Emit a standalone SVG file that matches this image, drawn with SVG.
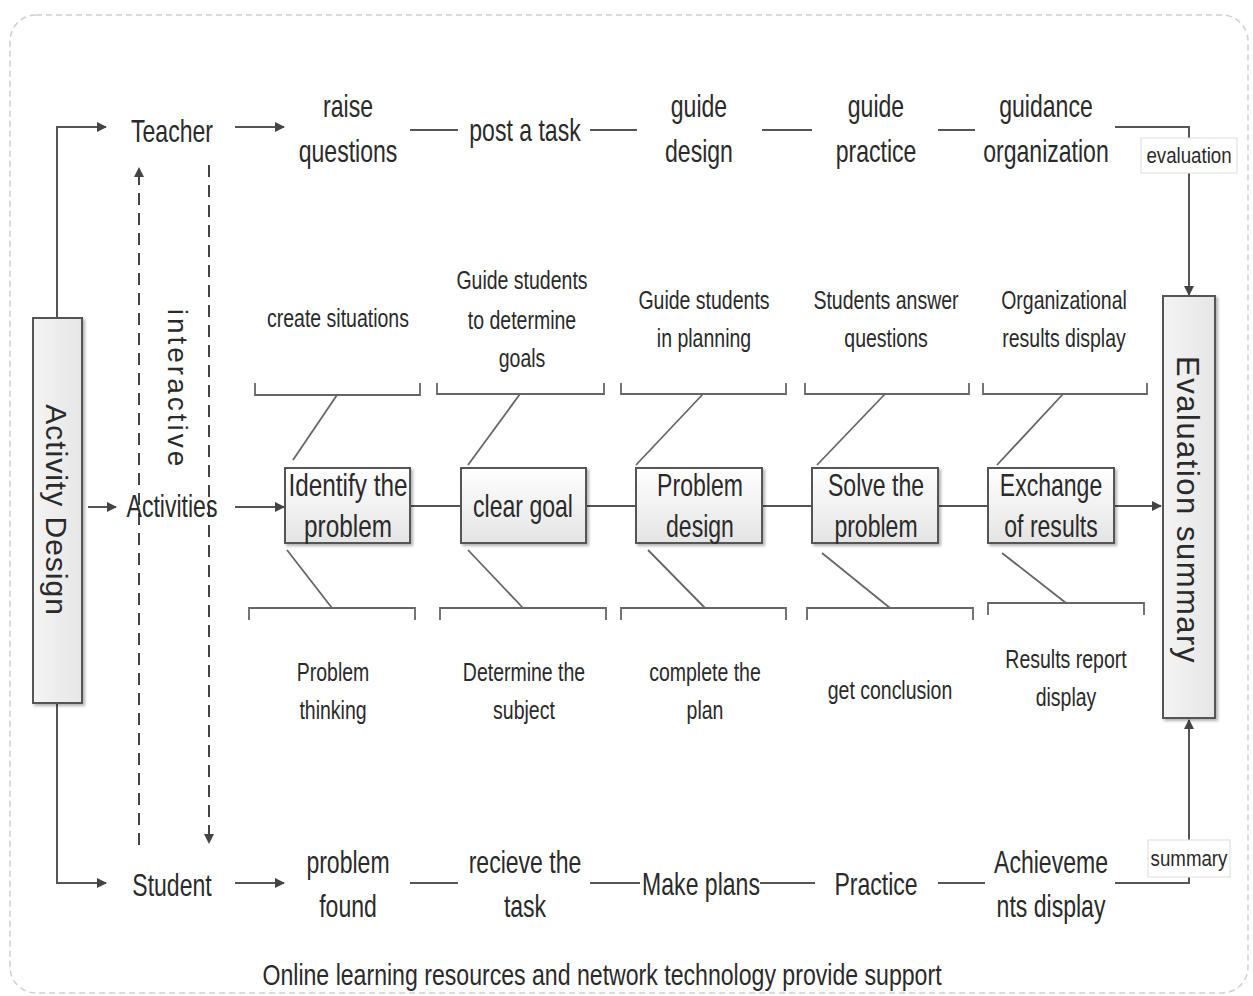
<svg xmlns="http://www.w3.org/2000/svg" width="1253" height="996" viewBox="0 0 1253 996">
<defs>
<linearGradient id="g" x1="0" y1="0" x2="0" y2="1"><stop offset="0" stop-color="#ffffff"/><stop offset="1" stop-color="#e4e4e4"/></linearGradient>
<linearGradient id="gv" x1="0" y1="0" x2="1" y2="0"><stop offset="0" stop-color="#f4f4f4"/><stop offset="1" stop-color="#e6e6e6"/></linearGradient>
<marker id="ah" markerWidth="10" markerHeight="10" refX="9" refY="5" orient="auto" markerUnits="userSpaceOnUse"><path d="M0,0 L10,5 L0,10 z" fill="#444"/></marker>
<filter id="sh" x="-10%" y="-10%" width="130%" height="130%"><feDropShadow dx="2" dy="2" stdDeviation="1.5" flood-color="#000" flood-opacity="0.3"/></filter>
</defs>
<style>
text{font-family:"Liberation Sans",Arial,sans-serif;fill:#2a2a2a;text-anchor:middle}
.big{font-size:32px}
.sm{font-size:25px}
.lbl{font-size:20px}
.ln{stroke:#555;stroke-width:2;fill:none}
.th{stroke:#666;stroke-width:1.8;fill:none}
.dash{stroke:#444;stroke-width:2;fill:none;stroke-dasharray:12,8}
.box{fill:url(#g);stroke:#555;stroke-width:2;filter:url(#sh)}
.vbox{fill:url(#gv);stroke:#555;stroke-width:2;filter:url(#sh)}
</style>
<rect x="10" y="15" width="1238" height="978" rx="26" fill="none" stroke="#cfcfcf" stroke-width="1.5" stroke-dasharray="6,4"/>

<g id="connectors">
<path class="ln" d="M57,318 V127 H106" marker-end="url(#ah)"/>
<path class="ln" d="M57,703 V883 H106" marker-end="url(#ah)"/>
<path class="ln" d="M88,507 H116" marker-end="url(#ah)"/>
<path class="ln" d="M235,127 H284" marker-end="url(#ah)"/>
<path class="ln" d="M235,507 H284" marker-end="url(#ah)"/>
<path class="ln" d="M235,883 H284" marker-end="url(#ah)"/>
<path class="dash" d="M139,845 V168" marker-end="url(#ah)"/>
<path class="dash" d="M209,165 V843" marker-end="url(#ah)"/>
<path class="ln" d="M410,130 H458 M590,130 H637 M762,130 H812 M938,130 H975"/>
<path class="ln" d="M1115,127 H1189 V138"/>
<path class="ln" d="M1189,173 V295" marker-end="url(#ah)"/>
<path class="ln" d="M410,883 H458 M590,883 H640 M760,883 H815 M938,883 H985"/>
<path class="ln" d="M1115,883 H1189 V877"/>
<path class="ln" d="M1189,840 V720" marker-end="url(#ah)"/>
<path class="ln" d="M410,506 H461 M586,506 H636 M762,506 H812 M938,506 H988"/>
<path class="ln" d="M1114,506 H1161" marker-end="url(#ah)"/>
<path class="th" d="M255,383 V395 H420 V383 M293,460 L337,395"/>
<path class="th" d="M437,383 V394 H604 V383 M468,465 L520,394"/>
<path class="th" d="M621,383 V394 H786 V383 M636,465 L703,394"/>
<path class="th" d="M805,383 V394 H969 V383 M817,465 L885,394"/>
<path class="th" d="M983,383 V394 H1147 V383 M997,465 L1063,394"/>
<path class="th" d="M249,620 V608 H415 V620 M287,550 L332,608"/>
<path class="th" d="M440,620 V608 H606 V620 M468,550 L523,608"/>
<path class="th" d="M621,620 V608 H786 V620 M648,550 L705,608"/>
<path class="th" d="M807,620 V608 H973 V620 M822,553 L890,608"/>
<path class="th" d="M988,615 V603 H1144 V615 M1002,553 L1066,603"/>
</g>

<g id="activity-design"><rect class="vbox" x="33" y="318" width="49" height="385"/><text transform="translate(46,510) rotate(90)" style="font-size:30px;letter-spacing:1px">Activity  Design</text></g>
<g id="evaluation-summary"><rect class="vbox" x="1163" y="296" width="52" height="422"/><text transform="translate(1177,510) rotate(90)" style="font-size:31px;letter-spacing:1.5px">Evaluation summary</text></g>
<g id="interactive"><text transform="translate(168,389) rotate(90)" style="font-size:28px;letter-spacing:3px">interactive</text></g>

<g id="teacher"><text class="big" transform="translate(172,142) scale(0.72,1)">Teacher</text></g>
<g id="activities"><text class="big" transform="translate(172,517) scale(0.72,1)">Activities</text></g>
<g id="student"><text class="big" transform="translate(172,896) scale(0.72,1)">Student</text></g>

<g id="raise-questions"><text class="big" transform="translate(348,117) scale(0.72,1)">raise</text><text class="big" transform="translate(348,162) scale(0.72,1)">questions</text></g>
<g id="post-task"><text class="big" transform="translate(525,141) scale(0.72,1)">post a task</text></g>
<g id="guide-design"><text class="big" transform="translate(699,117) scale(0.72,1)">guide</text><text class="big" transform="translate(699,162) scale(0.72,1)">design</text></g>
<g id="guide-practice"><text class="big" transform="translate(876,117) scale(0.72,1)">guide</text><text class="big" transform="translate(876,162) scale(0.72,1)">practice</text></g>
<g id="guidance-organization"><text class="big" transform="translate(1046,117) scale(0.72,1)">guidance</text><text class="big" transform="translate(1046,162) scale(0.72,1)">organization</text></g>
<g id="evaluation"><rect x="1141" y="138" width="96" height="35" fill="#fff" stroke="#ddd" stroke-width="1"/><text class="lbl" transform="translate(1189,163) scale(0.85,1)" style="font-size:22px">evaluation</text></g>

<g id="problem-found"><text class="big" transform="translate(348,873) scale(0.72,1)">problem</text><text class="big" transform="translate(348,917) scale(0.72,1)">found</text></g>
<g id="recieve-task"><text class="big" transform="translate(525,873) scale(0.72,1)">recieve the</text><text class="big" transform="translate(525,917) scale(0.72,1)">task</text></g>
<g id="make-plans"><text class="big" transform="translate(701,895) scale(0.72,1)">Make plans</text></g>
<g id="practice"><text class="big" transform="translate(876,895) scale(0.72,1)">Practice</text></g>
<g id="achievements"><text class="big" transform="translate(1051,873) scale(0.72,1)">Achieveme</text><text class="big" transform="translate(1051,917) scale(0.72,1)">nts display</text></g>
<g id="summary"><rect x="1148" y="840" width="82" height="37" fill="#fff" stroke="#ddd" stroke-width="1"/><text class="lbl" transform="translate(1189,866) scale(0.85,1)" style="font-size:22px">summary</text></g>

<g id="identify"><rect class="box" x="285" y="468" width="125" height="75"/><text class="big" transform="translate(348,496) scale(0.76,1)">Identify the</text><text class="big" transform="translate(348,537) scale(0.76,1)">problem</text></g>
<g id="clear-goal"><rect class="box" x="461" y="468" width="125" height="75"/><text class="big" transform="translate(523,517) scale(0.72,1)">clear goal</text></g>
<g id="problem-design"><rect class="box" x="636" y="468" width="126" height="75"/><text class="big" transform="translate(700,496) scale(0.72,1)">Problem</text><text class="big" transform="translate(700,537) scale(0.72,1)">design</text></g>
<g id="solve"><rect class="box" x="812" y="468" width="126" height="75"/><text class="big" transform="translate(876,496) scale(0.72,1)">Solve the</text><text class="big" transform="translate(876,537) scale(0.72,1)">problem</text></g>
<g id="exchange"><rect class="box" x="988" y="468" width="126" height="75"/><text class="big" transform="translate(1051,496) scale(0.72,1)">Exchange</text><text class="big" transform="translate(1051,537) scale(0.72,1)">of results</text></g>

<g id="create-situations"><text class="sm" transform="translate(338,327) scale(0.78,1)">create situations</text></g>
<g id="guide-goals"><text class="sm" transform="translate(522,289) scale(0.78,1)">Guide students</text><text class="sm" transform="translate(522,329) scale(0.78,1)">to determine</text><text class="sm" transform="translate(522,367) scale(0.78,1)">goals</text></g>
<g id="guide-planning"><text class="sm" transform="translate(704,309) scale(0.78,1)">Guide students</text><text class="sm" transform="translate(704,347) scale(0.78,1)">in planning</text></g>
<g id="students-answer"><text class="sm" transform="translate(886,309) scale(0.78,1)">Students answer</text><text class="sm" transform="translate(886,347) scale(0.78,1)">questions</text></g>
<g id="org-results"><text class="sm" transform="translate(1064,309) scale(0.78,1)">Organizational</text><text class="sm" transform="translate(1064,347) scale(0.78,1)">results display</text></g>

<g id="problem-thinking"><text class="sm" transform="translate(333,681) scale(0.78,1)">Problem</text><text class="sm" transform="translate(333,719) scale(0.78,1)">thinking</text></g>
<g id="determine-subject"><text class="sm" transform="translate(524,681) scale(0.78,1)">Determine the</text><text class="sm" transform="translate(524,719) scale(0.78,1)">subject</text></g>
<g id="complete-plan"><text class="sm" transform="translate(705,681) scale(0.78,1)">complete the</text><text class="sm" transform="translate(705,719) scale(0.78,1)">plan</text></g>
<g id="get-conclusion"><text class="sm" transform="translate(890,699) scale(0.78,1)">get conclusion</text></g>
<g id="results-report"><text class="sm" transform="translate(1066,668) scale(0.78,1)">Results report</text><text class="sm" transform="translate(1066,706) scale(0.78,1)">display</text></g>

<g id="support"><text transform="translate(602,985) scale(0.77,1)" style="font-size:30px">Online learning resources and network technology provide support</text></g>
</svg>
